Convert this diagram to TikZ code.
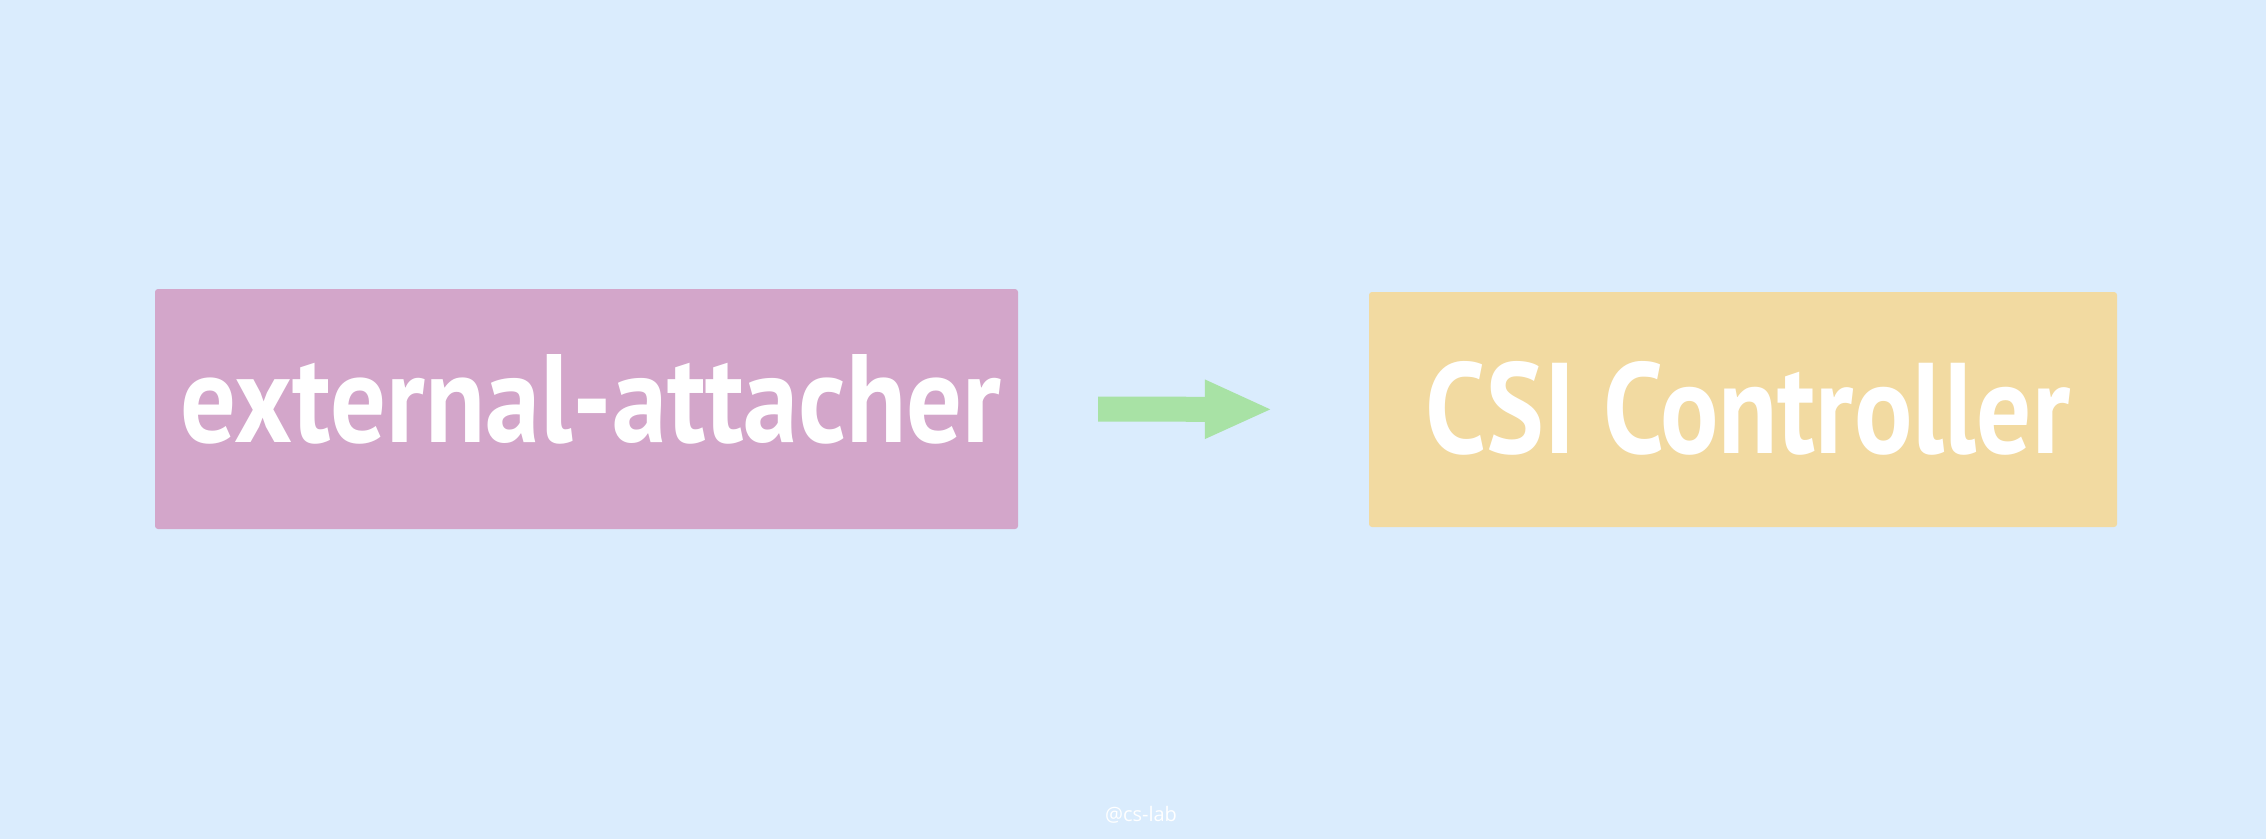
\documentclass[tikz,border=0pt]{standalone}
\usepackage{fontspec}
\usepackage{graphicx}
\setmainfont{PT Sans}
\newfontfamily\wmfont{Open Sans}
\usetikzlibrary{arrows.meta}
\definecolor{bgblue}{HTML}{DAECFD}
\definecolor{boxpurple}{HTML}{D3A6CA}
\definecolor{boxyellow}{HTML}{F2DAA1}
\definecolor{arrowgreen}{HTML}{A8E2A5}
\tikzset{
  box/.style={rectangle, inner sep=0pt, rounded corners=3pt},
  handtext/.style={text=white, inner sep=0pt, font=\bfseries},
  flow/.style={draw=arrowgreen, line width=25pt,
    -{Triangle[length=68pt,width=54pt]}, shorten <=80pt, shorten >=96pt},
  wmark/.style={text=white, inner sep=0pt, font=\wmfont\fontsize{20}{22}\selectfont}
}
\begin{document}
\begin{tikzpicture}[x=1pt,y=-1pt]
  \fill[bgblue] (0,0) rectangle (2266,839);
  \useasboundingbox (0,0) rectangle (2266,839);
  \node[box, fill=boxpurple, minimum width=863pt, minimum height=240pt] (b1) at (586.5,409) {};
  \node[box, fill=boxyellow, minimum width=748pt, minimum height=235pt] (b2) at (1743,409.5) {};
  \node[handtext] (t1) at (591,399) {\resizebox{820pt}{88pt}{external-attacher}};
  \node[handtext] (t2) at (1748,408) {\resizebox{644pt}{92pt}{CSI Controller}};
  \draw[flow] (b1.east) -- (b2.west);
  \node[wmark] (wm) at (1141,815) {@cs-lab};
\end{tikzpicture}
\end{document}
